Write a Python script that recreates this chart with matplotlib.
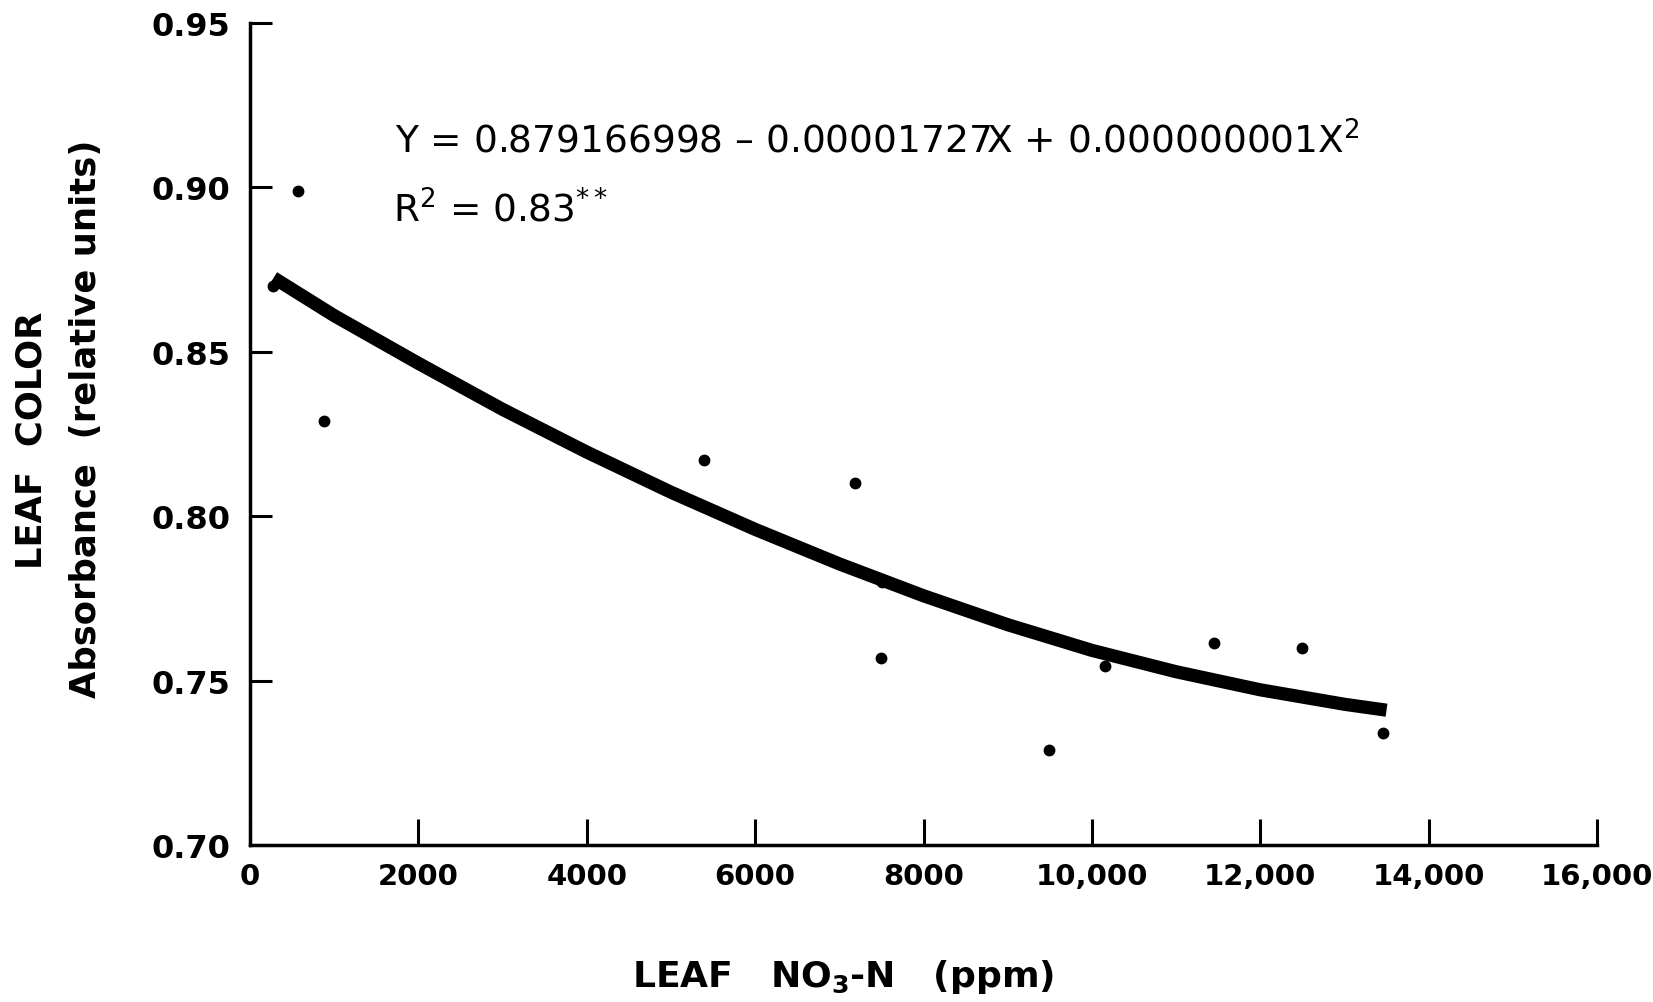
import matplotlib
matplotlib.use("Agg")
import matplotlib.pyplot as plt

# leaf NO3-N (ppm) against leaf colour absorbance
no3_ppm = [275, 575, 875, 5390, 7190, 7510, 7490, 9490, 10150, 11450, 12500, 13460]
absorbance = [0.870, 0.899, 0.829, 0.817, 0.810, 0.780, 0.757, 0.729, 0.7545, 0.7615, 0.760, 0.734]

# fitted curve
fit_x = [280, 1000, 2000, 3000, 4000, 5000, 6000, 7000, 8000, 9000,
         10000, 11000, 12000, 13000, 13500]
fit_y = [0.8725, 0.8610, 0.8465, 0.8325, 0.8195, 0.8073, 0.7960, 0.7855, 0.7758, 0.7670,
         0.7592, 0.7527, 0.7472, 0.7428, 0.7410]

x_ticks = [0, 2000, 4000, 6000, 8000, 10000, 12000, 14000, 16000]
x_labels = ["0", "2000", "4000", "6000", "8000", "10,000", "12,000", "14,000", "16,000"]
y_ticks = [0.70, 0.75, 0.80, 0.85, 0.90, 0.95]
y_labels = ["0.70", "0.75", "0.80", "0.85", "0.90", "0.95"]

equation = r"Y = 0.879166998 – 0.00001727X + 0.000000001X$^2$"
r_squared = r"R$^2$ = 0.83$^{**}$"

plt.rcParams["font.family"] = "DejaVu Sans"
plt.rcParams["mathtext.fontset"] = "dejavusans"

fig = plt.figure(figsize=(16.53, 10.03), dpi=100)
ax = fig.add_axes([250 / 1653, 1 - 846 / 1003, 1347 / 1653, 822 / 1003])

ax.plot(no3_ppm, absorbance, "o", color="black", markersize=7.5, zorder=2)
ax.plot(fit_x, fit_y, color="black", linewidth=9.5, solid_capstyle="butt", zorder=3)

ax.set_xlim(0, 16000)
ax.set_ylim(0.70, 0.95)
ax.spines["top"].set_visible(False)
ax.spines["right"].set_visible(False)
for side in ["left", "bottom"]:
    ax.spines[side].set_linewidth(2.5)

ax.set_xticks(x_ticks)
ax.set_xticklabels(x_labels, fontsize=21, fontweight="bold")
ax.set_yticks(y_ticks)
ax.set_yticklabels(y_labels, fontsize=23, fontweight="bold")
ax.tick_params(axis="x", direction="in", length=19, width=2.2, pad=12)
ax.tick_params(axis="y", direction="in", length=16, width=2.2, pad=14)

ax.text(1720, 0.9108, equation, fontsize=27, va="baseline", ha="left")
ax.text(1700, 0.8898, r_squared, fontsize=27, va="baseline", ha="left")

fig.text(32 / 1653, 1 - 440 / 1003, "LEAF  COLOR", rotation=90, fontsize=25.5,
         fontweight="bold", ha="center", va="center")
fig.text(86 / 1653, 1 - 419 / 1003, "Absorbance  (relative units)", rotation=90,
         fontsize=25.5, fontweight="bold", ha="center", va="center")
fig.text(632 / 1653, 1 - 987 / 1003, r"LEAF   NO$_\mathbf{3}$-N   (ppm)", fontsize=26,
         fontweight="bold", ha="left", va="baseline")

fig.savefig("out.png", dpi=100, facecolor="white")
